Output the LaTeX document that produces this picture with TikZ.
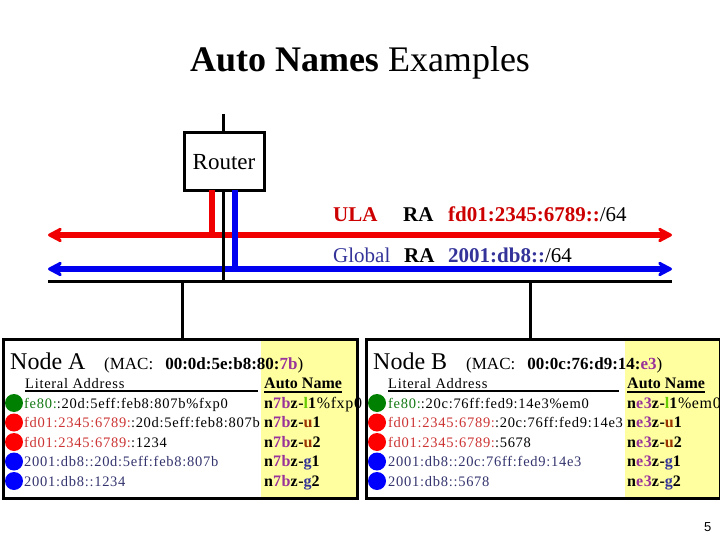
\documentclass[tikz,border=0pt]{standalone}
\usepackage{fontspec}
\setmainfont{Liberation Serif}
\newfontfamily\pgnumfont{Liberation Sans}
\newfontfamily\addrfamily[LetterSpace=5]{Liberation Serif}
\newfontfamily\anfamily[LetterSpace=4]{Liberation Serif}
\usetikzlibrary{arrows.meta}
\definecolor{linered}{RGB}{240,0,0}
\definecolor{lineblue}{RGB}{0,0,240}
\definecolor{ulared}{RGB}{204,0,0}
\definecolor{slate}{RGB}{51,51,153}
\definecolor{addrred}{RGB}{204,51,51}
\definecolor{addrgreen}{RGB}{20,120,20}
\definecolor{addrslate}{RGB}{51,51,110}
\definecolor{purp}{RGB}{153,51,153}
\definecolor{lgreen}{RGB}{102,204,0}
\definecolor{brownu}{RGB}{153,51,0}
\definecolor{paleyellow}{RGB}{255,255,160}
\definecolor{dotgreen}{RGB}{0,128,0}
\definecolor{dotred}{RGB}{255,0,0}
\definecolor{dotblue}{RGB}{0,0,255}
\newcommand\addrfont{\addrfamily\fontsize{14.5}{17}\selectfont}
\newcommand\anfont{\anfamily\fontsize{16}{18}\selectfont}
\newcommand\anheadfont{\fontsize{16}{18}\selectfont}
\begin{document}
\begin{tikzpicture}[x=1pt,y=-1pt,
  txt/.style={inner sep=0pt, anchor=base west},
  dot/.style={circle, minimum size=18pt, inner sep=0pt},
  rabus/.style={line width=6pt, {Stealth[length=19pt,width=20pt,inset=8pt,round]}-{Stealth[length=19pt,width=20pt,inset=8pt,round]}},
  wire/.style={line width=3pt, black},
  feed/.style={line width=6pt},
  boxframe/.style={draw, line width=3pt, inner sep=0pt, anchor=north west, minimum width=354pt, minimum height=159pt},
  hilite/.style={fill=paleyellow, inner sep=0pt, anchor=north west, minimum width=95pt, minimum height=159pt},
  uline/.style={line width=1.6pt}]
\useasboundingbox (0,0) rectangle (720,540);

% title
\node[inner sep=0pt, anchor=base] (title) at (360,72) {\fontsize{36}{40}\selectfont\textbf{Auto Names} Examples};

% coordinates
\coordinate (rl) at (48,235);  \coordinate (rr) at (672,235);
\coordinate (bl) at (48,269);  \coordinate (br) at (672,269);
\coordinate (kl) at (48,281);  \coordinate (kr) at (672,281);
\coordinate (rtop) at (223,114); \coordinate (rbus) at (223,281);
\coordinate (dA1) at (182,281); \coordinate (dA2) at (182,338);
\coordinate (dB1) at (530,281); \coordinate (dB2) at (530,338);
\coordinate (fr1) at (212,190); \coordinate (fr2) at (212,235);
\coordinate (fb1) at (235,190); \coordinate (fb2) at (235,269);

% RA buses
\draw[rabus, linered] (rl) -- (rr);
\draw[rabus, lineblue] (bl) -- (br);
\draw[wire] (kl) -- (kr);
\draw[wire] (dA1) -- (dA2);
\draw[wire] (dB1) -- (dB2);
\draw[wire] (rtop) -- (rbus);

% router
\node[draw, line width=3pt, fill=white, minimum width=80pt, minimum height=58pt, inner sep=0pt] (router) at (224,162) {\fontsize{23}{26}\selectfont Router};
\draw[feed, linered] (fr1) -- (fr2);
\draw[feed, lineblue] (fb1) -- (fb2);

% RA labels
\node[txt] (ula) at (333,222) {\fontsize{21}{24}\selectfont\textbf{\textcolor{ulared}{ULA}}};
\node[txt] (ra1) at (403,222) {\fontsize{21}{24}\selectfont\textbf{RA}};
\node[txt] (pf1) at (448,222) {\fontsize{21}{24}\selectfont\textbf{\textcolor{ulared}{fd01:2345:6789::}}/64};
\node[txt] (glob) at (333,262) {\fontsize{21}{24}\selectfont\textcolor{slate}{Global}};
\node[txt] (ra2) at (404,262) {\fontsize{21}{24}\selectfont\textbf{RA}};
\node[txt] (pf2) at (448,262) {\fontsize{21}{24}\selectfont\textbf{\textcolor{slate}{2001:db8::}}/64};

% ---------- Node A ----------
\node[hilite] (yA) at (261,338) {};
\node[txt] (nA) at (10,369) {\fontsize{24}{26}\selectfont Node A};
\node[txt] (macA) at (104,369) {\fontsize{17}{20}\selectfont (MAC:\hspace{12pt}\textbf{00:0d:5e:b8:80:\textcolor{purp}{7b}})};
\node[txt] (laA) at (25,388) {\addrfont Literal Address};
\node[txt] (anA) at (264,388) {\anheadfont\textbf{Auto Name}};
\coordinate (ulA1) at (25,391); \coordinate (ulA2) at (258,391);
\draw[uline] (ulA1) -- (ulA2);
\draw[uline] ([yshift=-4pt]anA.base west) -- ([yshift=-4pt]anA.base east);

\node[dot, fill=dotgreen] (cA1) at (14,403) {};
\node[dot, fill=dotred]   (cA2) at (14,422.5) {};
\node[dot, fill=dotred]   (cA3) at (14,442) {};
\node[dot, fill=dotblue]  (cA4) at (14,461.5) {};
\node[dot, fill=dotblue]  (cA5) at (14,481) {};

\node[txt] (aA1) at (24,408) {\addrfont\textcolor{addrgreen}{fe80:}:20d:5eff:feb8:807b\%fxp0};
\node[txt] (aA2) at (24,427.5) {\addrfont\textcolor{addrred}{fd01:2345:6789:}:20d:5eff:feb8:807b};
\node[txt] (aA3) at (24,447) {\addrfont\textcolor{addrred}{fd01:2345:6789:}:1234};
\node[txt] (aA4) at (24,466.5) {\addrfont\textcolor{addrslate}{2001:db8::20d:5eff:feb8:807b}};
\node[txt] (aA5) at (24,486) {\addrfont\textcolor{addrslate}{2001:db8::1234}};

\node[txt] (nmA1) at (264,408) {\anfont\textbf{n\textcolor{purp}{7b}z-\textcolor{lgreen}{l}1}\%fxp0};
\node[txt] (nmA2) at (264,427.5) {\anfont\textbf{n\textcolor{purp}{7b}z-\textcolor{brownu}{u}1}};
\node[txt] (nmA3) at (264,447) {\anfont\textbf{n\textcolor{purp}{7b}z-\textcolor{brownu}{u}2}};
\node[txt] (nmA4) at (264,466.5) {\anfont\textbf{n\textcolor{purp}{7b}z-\textcolor{slate}{g}1}};
\node[txt] (nmA5) at (264,486) {\anfont\textbf{n\textcolor{purp}{7b}z-\textcolor{slate}{g}2}};
\node[boxframe] (boxA) at (2,338) {};

% ---------- Node B ----------
\node[hilite] (yB) at (625,338) {};
\node[txt] (nB) at (373,369) {\fontsize{24}{26}\selectfont Node B};
\node[txt] (macB) at (466,369) {\fontsize{17}{20}\selectfont (MAC:\hspace{12pt}\textbf{00:0c:76:d9:14:\textcolor{purp}{e3}})};
\node[txt] (laB) at (388,388) {\addrfont Literal Address};
\node[txt] (anB) at (627,388) {\anheadfont\textbf{Auto Name}};
\coordinate (ulB1) at (388,391); \coordinate (ulB2) at (619,391);
\draw[uline] (ulB1) -- (ulB2);
\draw[uline] ([yshift=-4pt]anB.base west) -- ([yshift=-4pt]anB.base east);

\node[dot, fill=dotgreen] (cB1) at (377,403) {};
\node[dot, fill=dotred]   (cB2) at (377,422.5) {};
\node[dot, fill=dotred]   (cB3) at (377,442) {};
\node[dot, fill=dotblue]  (cB4) at (377,461.5) {};
\node[dot, fill=dotblue]  (cB5) at (377,481) {};

\node[txt] (aB1) at (388,408) {\addrfont\textcolor{addrgreen}{fe80:}:20c:76ff:fed9:14e3\%em0};
\node[txt] (aB2) at (388,427.5) {\addrfont\textcolor{addrred}{fd01:2345:6789:}:20c:76ff:fed9:14e3};
\node[txt] (aB3) at (388,447) {\addrfont\textcolor{addrred}{fd01:2345:6789:}:5678};
\node[txt] (aB4) at (388,466.5) {\addrfont\textcolor{addrslate}{2001:db8::20c:76ff:fed9:14e3}};
\node[txt] (aB5) at (388,486) {\addrfont\textcolor{addrslate}{2001:db8::5678}};

\node[txt] (nmB1) at (627,408) {\anfont\textbf{n\textcolor{purp}{e3}z-\textcolor{lgreen}{l}1}\%em0};
\node[txt] (nmB2) at (627,427.5) {\anfont\textbf{n\textcolor{purp}{e3}z-\textcolor{brownu}{u}1}};
\node[txt] (nmB3) at (627,447) {\anfont\textbf{n\textcolor{purp}{e3}z-\textcolor{brownu}{u}2}};
\node[txt] (nmB4) at (627,466.5) {\anfont\textbf{n\textcolor{purp}{e3}z-\textcolor{slate}{g}1}};
\node[txt] (nmB5) at (627,486) {\anfont\textbf{n\textcolor{purp}{e3}z-\textcolor{slate}{g}2}};
\node[boxframe, minimum width=354pt] (boxB) at (365,338) {};

% page number
\node[txt] (pg) at (704,531) {\pgnumfont\fontsize{13}{15}\selectfont 5};
\end{tikzpicture}
\end{document}
